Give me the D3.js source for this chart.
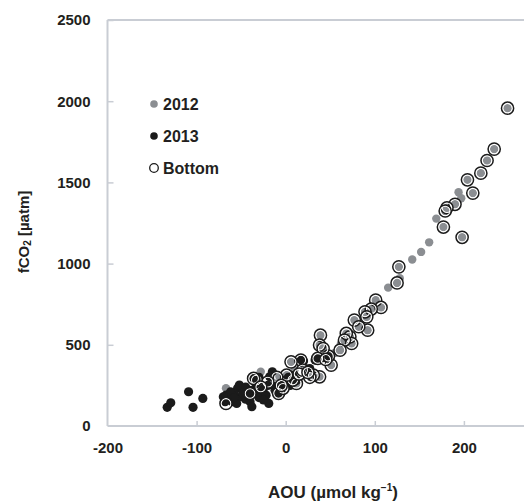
<!DOCTYPE html>
<html>
<head>
<meta charset="utf-8">
<script src="https://cdn.jsdelivr.net/npm/d3@7"></script>
<style>
  body { margin: 0; background: #fff; }
  svg { display: block; font-family: Arial, "Liberation Sans", sans-serif; }
</style>
</head>
<body>
<svg width="524" height="501"></svg>
<script>
const width = 524;
const height = 501;

// AOU (µmol/kg), fCO2 (µatm)
const data2012 = [
  [249,1957],[234,1705],[226,1635],[219,1557],[204,1516],[210,1434],[194,1439],[197,1402],
  [190,1365],[181,1344],[179,1324],[169,1277],[177,1225],[198,1162],[161,1131],[152,1072],
  [142,1025],[127,980],[128,910],[125,881],[115,852],[101,775],[107,730],[97,723],[89,703],
  [91,672],[92,590],[77,652],[82,611],[72,549],[68,570],[74,508],[66,529],[61,467],[62,508],
  [51,375],[48,440],[39,559],[38,498],[42,477],[44,420],[38,303],[31,313],[22,360],[10,344],
  [6,395],[12,262],[8,283],[1,313],[-3,232],[-7,303],[-9,201],[-28,334],[-33,283],[-67,232],
  [28,300],[55,450],[-15,270],[0,260],[85,640]
];

const data2013 = [
  [-133,115],[-129,143],[-109,211],[-104,115],[-93,170],[-67,190],[-65,170],[-68,150],
  [-60,150],[-55,139],[-54,232],[-52,252],[-50,180],[-48,200],[-45,165],[-42,190],[-40,150],
  [-38,119],[-36,293],[-35,200],[-33,260],[-30,175],[-28,210],[-25,230],[-22,190],[-19,139],
  [-18,303],[-15,334],[-12,220],[-10,250],[-8,200],[-5,240],[-2,280],[0,260],[3,300],[5,250],
  [8,310],[12,280],[17,406],[20,400],[27,354],[33,406],[36,416],[40,430],[45,420],[49,426],
  [-45,240],[-58,200],[-62,210],[-38,220],[-30,300],[-20,250],[-25,160],[-70,180],[-58,175]
];

const dataBottom = [
  [249,1957],[234,1705],[226,1635],[219,1557],[204,1516],[210,1434],[190,1365],[181,1344],
  [179,1324],[177,1225],[198,1162],[127,980],[125,881],[101,775],[107,730],[96,720],[89,703],
  [91,672],[92,590],[77,652],[82,611],[72,549],[68,570],[74,508],[66,529],[61,467],[51,375],
  [48,430],[39,559],[38,498],[42,477],[36,416],[38,303],[31,313],[27,300],[17,406],[19,344],
  [6,395],[12,262],[8,283],[1,313],[-8,201],[-3,232],[-10,300],[-33,283],[-36,293],[-67,139],
  [15,320],[25,330],[-20,270],[-40,200],[-5,250],[45,410],[-28,240]
];

const xTicks = [-200, -100, 0, 100, 200];
const yTicks = [0, 500, 1000, 1500, 2000, 2500];
const legendItems = ["2012", "2013", "Bottom"];

const svg = d3.select("svg");

const x = d3.scaleLinear().domain([-200, 300]).range([107.5, 553]);
const y = d3.scaleLinear().domain([0, 2500]).range([426, 20]);

const axisColor = "#c9cdd4";
const textColor = "#231f20";

// frame
const frame = svg.append("g");
frame.append("line").attr("x1", x(-200)).attr("x2", width).attr("y1", y(0)).attr("y2", y(0));
frame.append("line").attr("x1", x(-200)).attr("x2", width).attr("y1", y(2500)).attr("y2", y(2500));
frame.append("line").attr("x1", x(-200)).attr("x2", x(-200)).attr("y1", y(0)).attr("y2", y(2500));
frame.selectAll("line").attr("stroke", axisColor).attr("stroke-width", 2);

// axes with inward ticks
const xAxis = svg.append("g")
  .attr("transform", `translate(0,${y(0)})`)
  .call(d3.axisBottom(x).tickValues(xTicks).tickFormat(d => String(d))
    .tickSizeInner(-5).tickSizeOuter(0).tickPadding(16));
const yAxis = svg.append("g")
  .attr("transform", `translate(${x(-200)},0)`)
  .call(d3.axisLeft(y).tickValues(yTicks).tickFormat(d => String(d))
    .tickSizeInner(-6).tickSizeOuter(0).tickPadding(17));

[xAxis, yAxis].forEach(g => {
  g.select(".domain").remove();
  g.selectAll(".tick line").attr("stroke", axisColor).attr("stroke-width", 1.5);
  g.selectAll(".tick text")
    .attr("fill", textColor)
    .style("font-size", "15px")
    .style("font-weight", "bold")
    .style("font-family", "Arial, 'Liberation Sans', sans-serif");
});
// the -200 x tick sits on the axis line
xAxis.selectAll(".tick").filter(d => d === -200).select("line").remove();
yAxis.selectAll(".tick").filter(d => d === 0).select("line").remove();

// points
const plot = svg.append("g");
plot.selectAll("circle.p2012")
  .data(data2012).enter().append("circle")
  .attr("class", "p2012")
  .attr("cx", d => x(d[0])).attr("cy", d => y(d[1]))
  .attr("r", 4.2).attr("fill", "#8b8e92");

plot.selectAll("circle.p2013")
  .data(data2013).enter().append("circle")
  .attr("class", "p2013")
  .attr("cx", d => x(d[0])).attr("cy", d => y(d[1]))
  .attr("r", 4.6).attr("fill", "#1b1b1b");

const rings = plot.selectAll("g.bottom")
  .data(dataBottom).enter().append("g")
  .attr("class", "bottom")
  .attr("transform", d => `translate(${x(d[0])},${y(d[1])})`);
rings.append("circle").attr("r", 5).attr("fill", "none")
  .attr("stroke", "#fff").attr("stroke-width", 1.4);
rings.append("circle").attr("r", 6.1).attr("fill", "none")
  .attr("stroke", "#1b1b1b").attr("stroke-width", 1.5);

// legend
const legend = svg.append("g").attr("transform", "translate(154,104)");
const li = legend.selectAll("g").data(legendItems).enter().append("g")
  .attr("transform", (d, i) => `translate(0,${i * 32})`);
li.append("circle")
  .attr("r", (d, i) => i === 2 ? 4.3 : 3.8)
  .attr("fill", (d, i) => ["#8b8e92", "#1b1b1b", "#fff"][i])
  .attr("stroke", (d, i) => i === 2 ? "#1b1b1b" : "none")
  .attr("stroke-width", 1.3);
li.append("text")
  .attr("x", 9).attr("y", 6)
  .attr("fill", textColor)
  .style("font-size", "16px").style("font-weight", "bold")
  .text(d => d);

// axis titles
const xTitle = svg.append("text")
  .attr("x", 333).attr("y", 498)
  .attr("text-anchor", "middle")
  .attr("fill", textColor)
  .style("font-size", "17px").style("font-weight", "bold");
xTitle.append("tspan").text("AOU (µmol kg");
xTitle.append("tspan").attr("dy", -7).style("font-size", "10px").text("−1");
xTitle.append("tspan").attr("dy", 7).text(")");

const yTitle = svg.append("text")
  .attr("transform", "translate(29,232) rotate(-90)")
  .attr("text-anchor", "middle")
  .attr("fill", textColor)
  .style("font-size", "15px").style("font-weight", "bold");
yTitle.append("tspan").text("fCO");
yTitle.append("tspan").attr("dy", 2).style("font-size", "10px").text("2");
yTitle.append("tspan").attr("dy", -2).text(" [µatm]");
</script>
</body>
</html>
